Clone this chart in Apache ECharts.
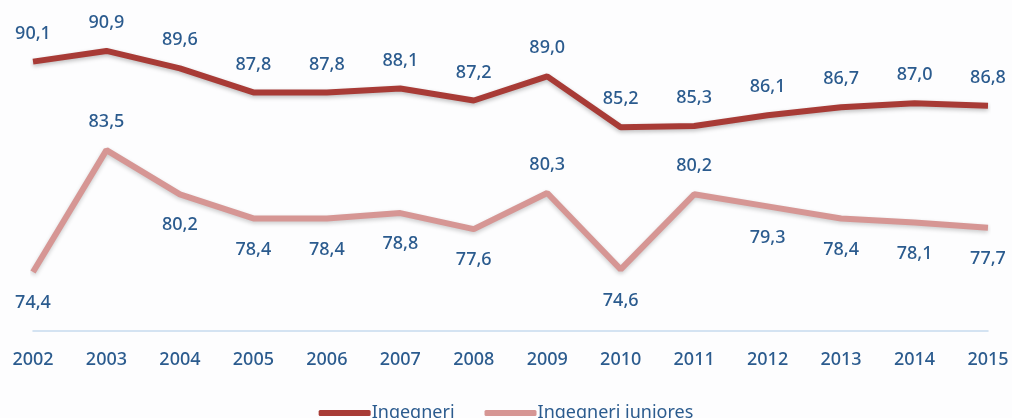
<!DOCTYPE html>
<html>
<head>
<meta charset="utf-8">
<script src="https://cdn.jsdelivr.net/npm/echarts@6/dist/echarts.min.js"></script>
<style>
  html, body { margin: 0; padding: 0; background: #fdfdfe; }
  #main { width: 1012px; height: 418px; }
</style>
</head>
<body>
<div id="main"></div>
<script>
var years = ["2002", "2003", "2004", "2005", "2006", "2007", "2008", "2009", "2010", "2011", "2012", "2013", "2014", "2015"];
var ingegneri = [90.1, 90.9, 89.6, 87.8, 87.8, 88.1, 87.2, 89.0, 85.2, 85.3, 86.1, 86.7, 87.0, 86.8];
var juniores = [74.4, 83.5, 80.2, 78.4, 78.4, 78.8, 77.6, 80.3, 74.6, 80.2, 79.3, 78.4, 78.1, 77.7];
// where each juniores label sits
var juniorPos = ["bottom", "top", "bottom", "bottom", "bottom", "bottom", "bottom", "top", "bottom", "top", "bottom", "bottom", "bottom", "bottom"];

var labelColor = "#2b5b8e";
var font = "Noto Sans";

function fmt(p) {
  return p.value.toFixed(1).replace(".", ",");
}

var myChart = echarts.init(document.getElementById("main"));

var option = {
  backgroundColor: "#fdfdfe",
  textStyle: { fontFamily: font },
  grid: { left: 33, right: 24, top: 0, bottom: 87 },
  legend: {
    bottom: -9,
    left: "center",
    itemWidth: 52,
    itemHeight: 6,
    itemGap: 30,
    icon: "roundRect",
    textStyle: { color: labelColor, fontSize: 18, fontFamily: font, padding: [0, 0, 0, -4] },
    data: ["Ingegneri", "Ingegneri iuniores"]
  },
  xAxis: {
    type: "category",
    data: years,
    boundaryGap: false,
    axisLine: { lineStyle: { color: "#c6daee", width: 1.5 } },
    axisTick: { show: false },
    axisLabel: { color: labelColor, fontSize: 18, fontWeight: 500, margin: 20, fontFamily: font }
  },
  yAxis: {
    type: "value",
    min: 70,
    max: 94.7,
    show: false,
    splitLine: { show: false }
  },
  series: [
    {
      name: "Ingegneri",
      type: "line",
      data: ingegneri,
      symbol: "circle",
      symbolSize: 0.1,
      showSymbol: true,
      color: "#a83b36",
      lineStyle: { width: 6, color: "#a83b36", shadowColor: "rgba(0,0,0,0.25)", shadowBlur: 4, shadowOffsetY: 2 },
      label: {
        show: true,
        position: "top",
        distance: 19,
        color: labelColor,
        fontSize: 18,
        fontWeight: 500,
        fontFamily: font,
        formatter: fmt
      }
    },
    {
      name: "Ingegneri iuniores",
      type: "line",
      data: juniores.map(function (v, i) {
        return { value: v, label: { position: juniorPos[i], distance: juniorPos[i] === "top" ? 19 : 22 } };
      }),
      symbol: "circle",
      symbolSize: 0.1,
      showSymbol: true,
      color: "#d69694",
      lineStyle: { width: 6, color: "#d69694", shadowColor: "rgba(0,0,0,0.2)", shadowBlur: 4, shadowOffsetY: 2 },
      label: {
        show: true,
        color: labelColor,
        fontSize: 18,
        fontWeight: 500,
        fontFamily: font,
        formatter: fmt
      }
    }
  ]
};

myChart.setOption(option);
</script>
</body>
</html>
